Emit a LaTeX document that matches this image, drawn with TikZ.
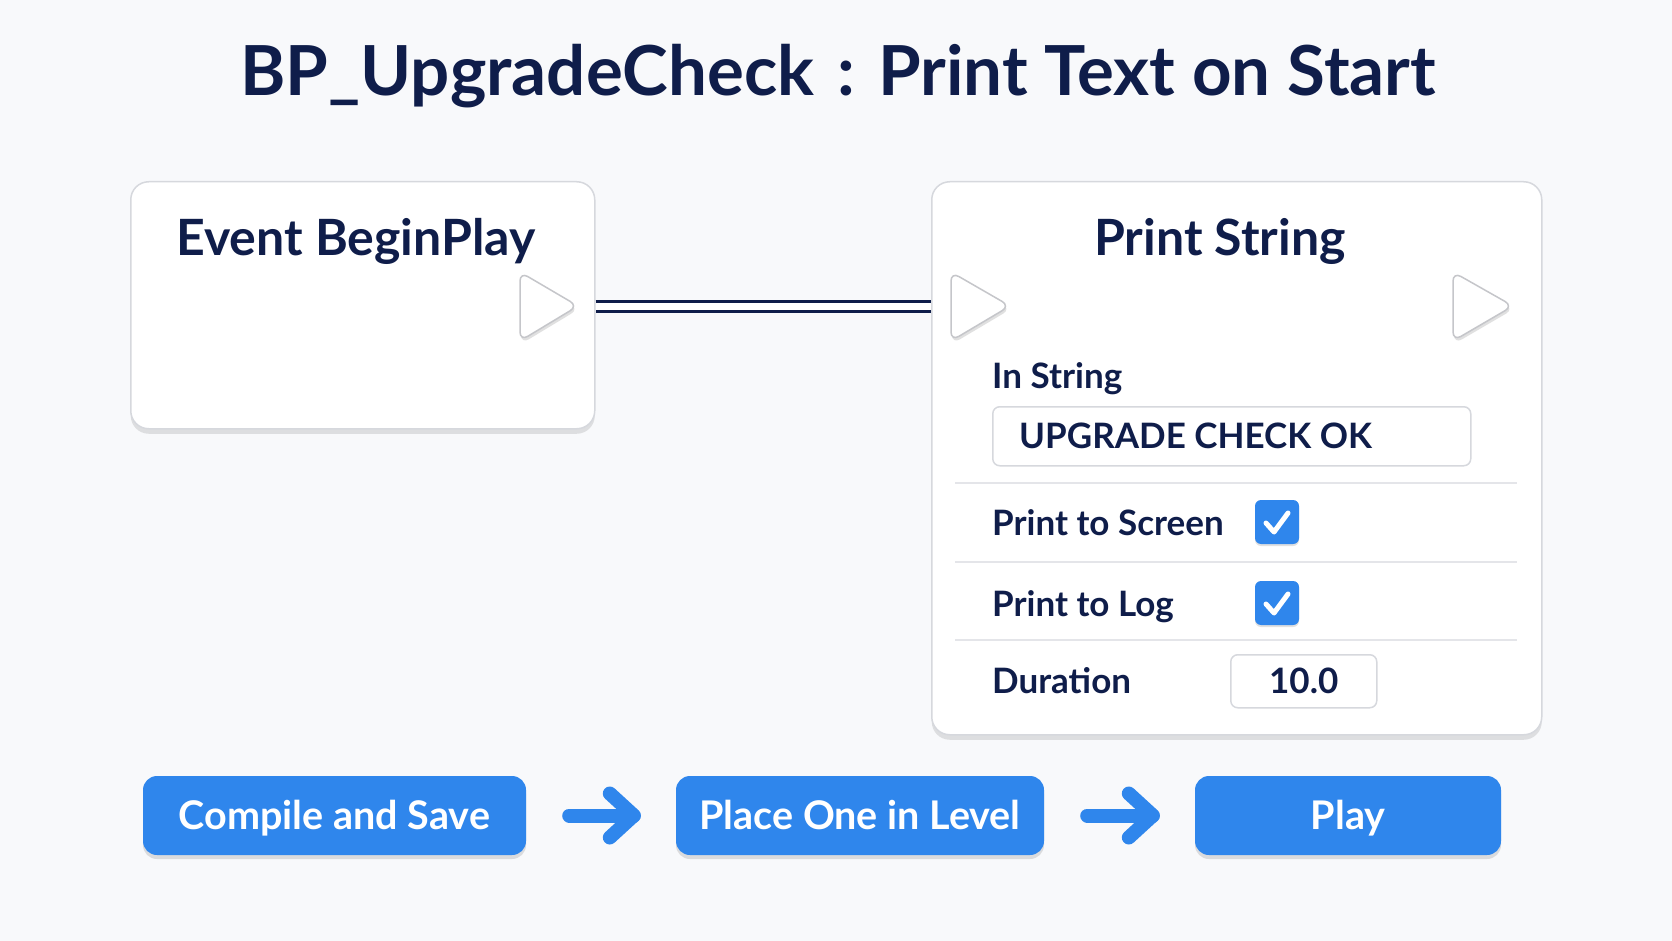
\documentclass[tikz,border=0pt]{standalone}
\usepackage{fontspec}
\setmainfont{Lato}
\usetikzlibrary{shadows,calc}
\definecolor{navy}{HTML}{0F1D4A}
\definecolor{btnblue}{HTML}{2F86EC}
\definecolor{bgc}{HTML}{F8F9FB}
\definecolor{edgec}{HTML}{D6D8DD}
\definecolor{sepc}{HTML}{E4E5E9}
\begin{document}
\begin{tikzpicture}[x=1pt,y=-1pt,
  card/.style={draw=edgec,line width=1.5pt,fill=white,rounded corners=18pt,anchor=north west,inner sep=0pt,
    drop shadow={shadow xshift=0pt,shadow yshift=-5pt,opacity=0.18,fill=black!60}},
  cardtitle/.style={text=navy,font=\fontsize{50}{56}\selectfont\bfseries,text height=36pt,text depth=0pt,inner sep=0pt},
  lbl/.style={text=navy,font=\fontsize{35}{40}\selectfont\bfseries,anchor=base west,inner sep=0pt},
  field/.style={draw=edgec,line width=1.5pt,fill=white,rounded corners=7pt,inner sep=0pt,anchor=north west},
  fieldtxt/.style={text=navy,font=\fontsize{35}{42}\selectfont\bfseries,inner sep=0pt,text height=25pt,text depth=0pt},
  sepline/.style={draw=sepc,line width=1.2pt},
  execpin/.style={draw=edgec!80!gray,line width=1.5pt,fill=white,rounded corners=9pt,
    drop shadow={shadow xshift=1pt,shadow yshift=-3pt,opacity=0.2,fill=black!60}},
  chk/.style={fill=btnblue,rounded corners=6pt,minimum width=44pt,minimum height=44pt,inner sep=0pt,
    drop shadow={shadow xshift=0pt,shadow yshift=-2pt,opacity=0.2,fill=black!60}},
  chkmark/.style={draw=white,line width=5pt,line cap=round,line join=round},
  btn/.style={fill=btnblue,rounded corners=14pt,minimum height=79pt,inner sep=0pt,text=white,
    font=\fontsize{39.5}{46}\selectfont\bfseries,text height=28pt,text depth=0pt,
    drop shadow={shadow xshift=0pt,shadow yshift=-4pt,opacity=0.2,fill=black!60}},
  flowarrow/.style={draw=btnblue,line width=14pt,line cap=round,line join=round},
  wire/.style={draw=navy,line width=3pt,double=white,double distance=7pt}
]
\fill[bgc] (0,0) rectangle (1672,941);
\useasboundingbox (0,0) rectangle (1672,941);

% title
\node[text=navy,font=\fontsize{69}{80}\selectfont\bfseries,text height=50pt,text depth=0pt,inner sep=0pt] (title) at (838,71) {BP\_UpgradeCheck\,\,:\,\,Print Text on Start};

% left card
\node[card,minimum width=464pt,minimum height=247pt] (lbox) at (130,181) {};
\node[cardtitle] (ltitle) at (356,237) {Event BeginPlay};
\coordinate (pinL) at (520,306);
\draw[execpin] (520,272) -- (578,306) -- (520,341) -- cycle;

% right card
\node[card,minimum width=610pt,minimum height=553pt] (rbox) at (931,181) {};
\node[cardtitle] (rtitle) at (1220,237) {Print String};
\coordinate (pinIn) at (951,306);
\draw[execpin] (951,272) -- (1010,306) -- (951,341) -- cycle;
\coordinate (pinOut) at (1453,306);
\draw[execpin] (1453,272) -- (1513,306) -- (1453,341) -- cycle;

% wire
\draw[wire] (lbox.east |- pinL) -- (rbox.west |- pinIn);

% In String
\node[lbl] (instr) at (992,388) {In String};
\node[field,minimum width=478pt,minimum height=59pt] (strfield) at (992,406) {};
\node[fieldtxt,anchor=west] (strval) at (1019,436) {UPGRADE CHECK OK};

\draw[sepline] (955,483) -- (1517,483);
\draw[sepline] (955,562) -- (1517,562);
\draw[sepline] (955,640) -- (1517,640);

\node[lbl] (pscreen) at (992,535) {Print to Screen};
\node[chk] (chk1) at (1277,522) {};
\draw[chkmark] ($(chk1)+(-11,1)$) -- ($(chk1)+(-3,10)$) -- ($(chk1)+(11,-9)$);

\node[lbl] (plog) at (992,616) {Print to Log};
\node[chk] (chk2) at (1277,603) {};
\draw[chkmark] ($(chk2)+(-11,1)$) -- ($(chk2)+(-3,10)$) -- ($(chk2)+(11,-9)$);

\node[lbl] (pdur) at (992,693) {Duration};
\node[field,minimum width=146pt,minimum height=53pt] (durfield) at (1230,654) {};
\node[fieldtxt] (durval) at (durfield.center) {10.0};

% bottom buttons
\node[btn,minimum width=383pt] (b1) at (334.5,815.5) {Compile and Save};
\node[btn,minimum width=368pt] (b2) at (860,815.5) {Place One in Level};
\node[btn,minimum width=306pt] (b3) at (1348,815.5) {Play};

\coordinate (a1s) at ($(b1.east)+(43,0)$);
\coordinate (a1e) at ($(b2.west)+(-42,0)$);
\draw[flowarrow] (a1s) -- (a1e);
\draw[flowarrow] ($(a1e)+(-24,-22)$) -- (a1e) -- ($(a1e)+(-24,22)$);

\coordinate (a2s) at ($(b2.east)+(43,0)$);
\coordinate (a2e) at ($(b3.west)+(-42,0)$);
\draw[flowarrow] (a2s) -- (a2e);
\draw[flowarrow] ($(a2e)+(-24,-22)$) -- (a2e) -- ($(a2e)+(-24,22)$);
\end{tikzpicture}
\end{document}
